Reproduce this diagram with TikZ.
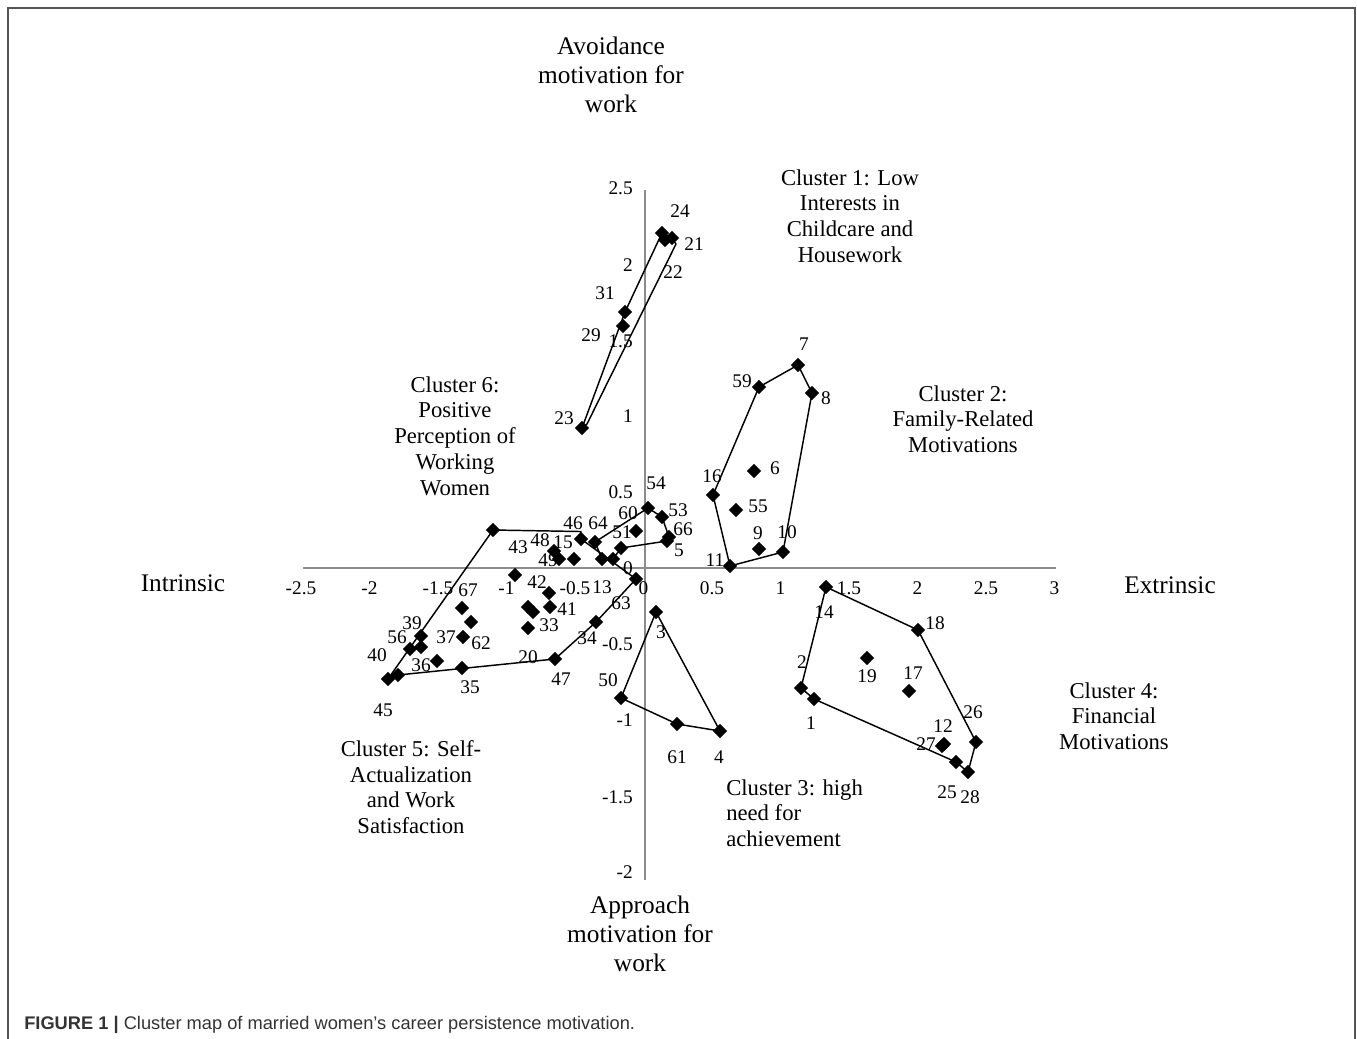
\documentclass[tikz,border=0pt]{standalone}
\usepackage{fontspec}
\setmainfont{Liberation Serif}
\newfontfamily\capfont{Liberation Sans}
\usetikzlibrary{shapes.geometric}
\definecolor{framegray}{HTML}{555555}
\definecolor{axisgray}{HTML}{8C8C8C}
\definecolor{captext}{HTML}{333333}
\tikzset{
  dpt/.style={diamond, fill=black, inner sep=0pt, minimum width=10.8pt, minimum height=10.8pt},
  lab/.style={font=\fontsize{14.5}{16}\selectfont, inner sep=0pt},
  hull/.style={draw=black, line width=1.1pt, line join=round},
  ctitle/.style={font=\fontsize{17}{19.3}\selectfont, align=center, inner sep=0pt},
  atitle/.style={font=\fontsize{19}{21.75}\selectfont, align=center, inner sep=0pt},
  axisline/.style={draw=axisgray, line width=1.1pt},
  frameline/.style={draw=framegray, line width=1.6pt},
}
\begin{document}
\begin{tikzpicture}[x=0.75pt, y=-0.75pt]
\useasboundingbox (0,0) rectangle (1357,1039);
% frame
\coordinate (fbl) at (8,1039);
\coordinate (ftl) at (8,8);
\coordinate (ftr) at (1355,8);
\coordinate (fbr) at (1355,1039);
\draw[frameline] (fbl) -- (ftl) -- (ftr) -- (fbr);

% axes
\coordinate (xl) at (303,568);
\coordinate (xr) at (1056,568);
\coordinate (yt) at (645,190);
\coordinate (yb) at (645,880);
\draw[axisline] (xl) -- (xr);
\draw[axisline] (yt) -- (yb);

% x tick labels
\foreach \v/\t [count=\i] in {0/-2.5,1/-2,2/-1.5,3/-1,4/-0.5,5/0,6/0.5,7/1,8/1.5,9/2,10/2.5,11/3}
  \node[lab] (tx\i) at ({301+68.5*\v},588) {\t};
% y tick labels
\foreach \yy/\t [count=\i] in {188/2.5,265/2,341/1.5,416/1,492/0.5,568/0,644/-0.5,720/-1,797/-1.5,872/-2}
  \node[lab, anchor=east] (ty\i) at (633,\yy) {\t};

% ---------- points ----------
% cluster 1
\node[dpt] (p24) at (662,233) {};
\node[dpt] (p21) at (672,238) {};
\node[dpt] (p22) at (665,240) {};
\node[dpt] (p31) at (625,312) {};
\node[dpt] (p29) at (623,326) {};
\node[dpt] (p23) at (582,428) {};
\coordinate (c1r) at (676,244);
\coordinate (c1b) at (587,424);
% cluster 2
\node[dpt] (p7) at (798,365) {};
\node[dpt] (p8) at (812,393) {};
\node[dpt] (p59) at (759,387) {};
\node[dpt] (p6) at (754,471) {};
\node[dpt] (p16) at (713,495) {};
\node[dpt] (p55) at (736,510) {};
\node[dpt] (p9) at (759,549) {};
\node[dpt] (p10) at (783,552) {};
\node[dpt] (p11) at (730,566) {};
% cluster 3
\node[dpt] (p3) at (656,612) {};
\node[dpt] (p50) at (621,698) {};
\node[dpt] (p61) at (677,724) {};
\node[dpt] (p4) at (720,731) {};
% cluster 4
\node[dpt] (p14) at (826,587) {};
\node[dpt] (p18) at (918,630) {};
\node[dpt] (p2) at (801,688) {};
\node[dpt] (p1) at (814,699) {};
\node[dpt] (p19) at (867,658) {};
\node[dpt] (p17) at (909,691) {};
\node[dpt] (p12) at (942,746) {};
\node[dpt] (p27) at (944,744) {};
\node[dpt] (p26) at (976,742) {};
\node[dpt] (p25) at (956,762) {};
\node[dpt] (p28) at (968,772) {};
% cluster 5
\node[dpt] (p45) at (388,679) {};
\node[dpt] (p40) at (398,675) {};
\node[dpt] (p56) at (410,649) {};
\node[dpt] (p39) at (421,636) {};
\node[dpt] (q1) at (421,647) {};
\node[dpt] (p36) at (437,661) {};
\node[dpt] (p37) at (463,637) {};
\node[dpt] (p62) at (471,622) {};
\node[dpt] (p67) at (462,608) {};
\node[dpt] (p35) at (462,668) {};
\node[dpt] (p47) at (555,659) {};
\node[dpt] (p33) at (528,607) {};
\node[dpt] (q2) at (533,612) {};
\node[dpt] (q3) at (528,628) {};
\node[dpt] (p41) at (550,607) {};
\node[dpt] (p42) at (549,593) {};
\node[dpt] (q4) at (515,575) {};
\node[dpt] (p34) at (596,622) {};
\node[dpt] (p13) at (636,579) {};
\node[dpt] (q5) at (493,530) {};
% cluster 6
\node[dpt] (p46) at (581,539) {};
\node[dpt] (p48) at (554,551) {};
\node[dpt] (p49) at (559,559) {};
\node[dpt] (p15) at (574,559) {};
\node[dpt] (p64) at (595,542) {};
\node[dpt] (p51) at (636,531) {};
\node[dpt] (q6) at (621,548) {};
\node[dpt] (q7) at (602,559) {};
\node[dpt] (q8) at (613,559) {};
\node[dpt] (p54) at (648,508) {};
\node[dpt] (p53) at (662,517) {};
\node[dpt] (p66) at (669,537) {};
\node[dpt] (p5) at (667,541) {};

% ---------- hulls ----------
\draw[hull] (p23.center) -- (p31.center) -- (p24.center) -- (p21.center) -- (c1r) -- (c1b) -- cycle;
\draw[hull] (p59.center) -- (p7.center) -- (p8.center) -- (p10.center) -- (p11.center) -- (p16.center) -- cycle;
\draw[hull] (p3.center) -- (p50.center) -- (p61.center) -- (p4.center) -- cycle;
\draw[hull] (p14.center) -- (p18.center) -- (p26.center) -- (p28.center) -- (p25.center) -- (p1.center) -- (p2.center) -- cycle;
\draw[hull] (p45.center) -- (q5.center) -- (p46.north) -- (p46.center) -- (p13.center) -- (p34.center) -- (p47.center) -- (p40.center) -- cycle;
\draw[hull] (p64.center) -- (p54.center) -- (p53.center) -- (p66.center) -- (p5.center) -- (q6.center) -- (q8.center) -- (q7.center) -- cycle;

% ---------- point labels ----------
\node[lab] (l24) at (680,211) {24};
\node[lab] (l21) at (694,244) {21};
\node[lab] (l22) at (673,272) {22};
\node[lab] (l31) at (605,293) {31};
\node[lab] (l29) at (591,335) {29};
\node[lab] (l23) at (564,418) {23};
\node[lab] (l7) at (804,344) {7};
\node[lab] (l59) at (742,381) {59};
\node[lab] (l8) at (826,398) {8};
\node[lab] (l6) at (775,468) {6};
\node[lab] (l16) at (712,476) {16};
\node[lab] (l55) at (758,506) {55};
\node[lab] (l9) at (758,533) {9};
\node[lab] (l10) at (787,532) {10};
\node[lab] (l11) at (715,560) {11};
\node[lab] (l3) at (661,632) {3};
\node[lab] (l50) at (608,680) {50};
\node[lab] (l61) at (677,757) {61};
\node[lab] (l4) at (719,757) {4};
\node[lab] (l14) at (824,612) {14};
\node[lab] (l18) at (935,623) {18};
\node[lab] (l2) at (802,662) {2};
\node[lab] (l1) at (811,723) {1};
\node[lab] (l19) at (867,676) {19};
\node[lab] (l17) at (913,673) {17};
\node[lab] (l12) at (943,726) {12};
\node[lab] (l27) at (926,744) {27};
\node[lab] (l26) at (973,712) {26};
\node[lab] (l25) at (947,792) {25};
\node[lab] (l28) at (970,797) {28};
\node[lab] (l40) at (377,655) {40};
\node[lab] (l56) at (397,637) {56};
\node[lab] (l39) at (412,623) {39};
\node[lab] (l36) at (421,665) {36};
\node[lab] (l37) at (446,637) {37};
\node[lab] (l62) at (481,643) {62};
\node[lab] (l67) at (468,590) {67};
\node[lab] (l35) at (470,687) {35};
\node[lab] (l45) at (383,710) {45};
\node[lab] (l20) at (528,657) {20};
\node[lab] (l47) at (561,679) {47};
\node[lab] (l33) at (549,625) {33};
\node[lab] (l41) at (567,609) {41};
\node[lab] (l42) at (537,582) {42};
\node[lab] (l34) at (587,638) {34};
\node[lab] (l13) at (602,587) {13};
\node[lab] (l63) at (621,603) {63};
\node[lab] (l46) at (573,523) {46};
\node[lab] (l48) at (540,540) {48};
\node[lab] (l15) at (563,542) {15};
\node[lab] (l49) at (548,560) {49};
\node[lab] (l43) at (518,547) {43};
\node[lab] (l64) at (598,523) {64};
\node[lab] (l60) at (628,513) {60};
\node[lab] (l51) at (622,532) {51};
\node[lab] (l54) at (656,483) {54};
\node[lab] (l53) at (678,510) {53};
\node[lab] (l66) at (683,529) {66};
\node[lab] (l5) at (679,550) {5};

% ---------- titles ----------
\node[atitle] (tav) at (611,75) {Avoidance\\motivation for\\work};
\node[atitle] (tap) at (640,934) {Approach\\motivation for\\work};
\node[atitle] (tin) at (183,583) {Intrinsic};
\node[atitle] (tex) at (1170,585) {Extrinsic};
\node[ctitle] (c1) at (850,216) {Cluster 1: Low\\Interests in\\Childcare and\\Housework};
\node[ctitle] (c2) at (963,419) {Cluster 2:\\Family-Related\\Motivations};
\node[ctitle, align=left, anchor=north west] (c3) at (726,779) {Cluster 3: high\\need for\\achievement};
\node[ctitle] (c4) at (1114,716) {Cluster 4:\\Financial\\Motivations};
\node[ctitle] (c5) at (411,787) {Cluster 5: Self-\\Actualization\\and Work\\Satisfaction};
\node[ctitle] (c6) at (455,436) {Cluster 6:\\Positive\\Perception of\\Working\\Women};

% caption
\node[anchor=base west, inner sep=0pt, text=captext, font=\capfont\fontsize{13.7}{16}\selectfont] (cap) at (24,1029)
  {\textbf{FIGURE 1 |} Cluster map of married women’s career persistence motivation.};
\end{tikzpicture}
\end{document}
